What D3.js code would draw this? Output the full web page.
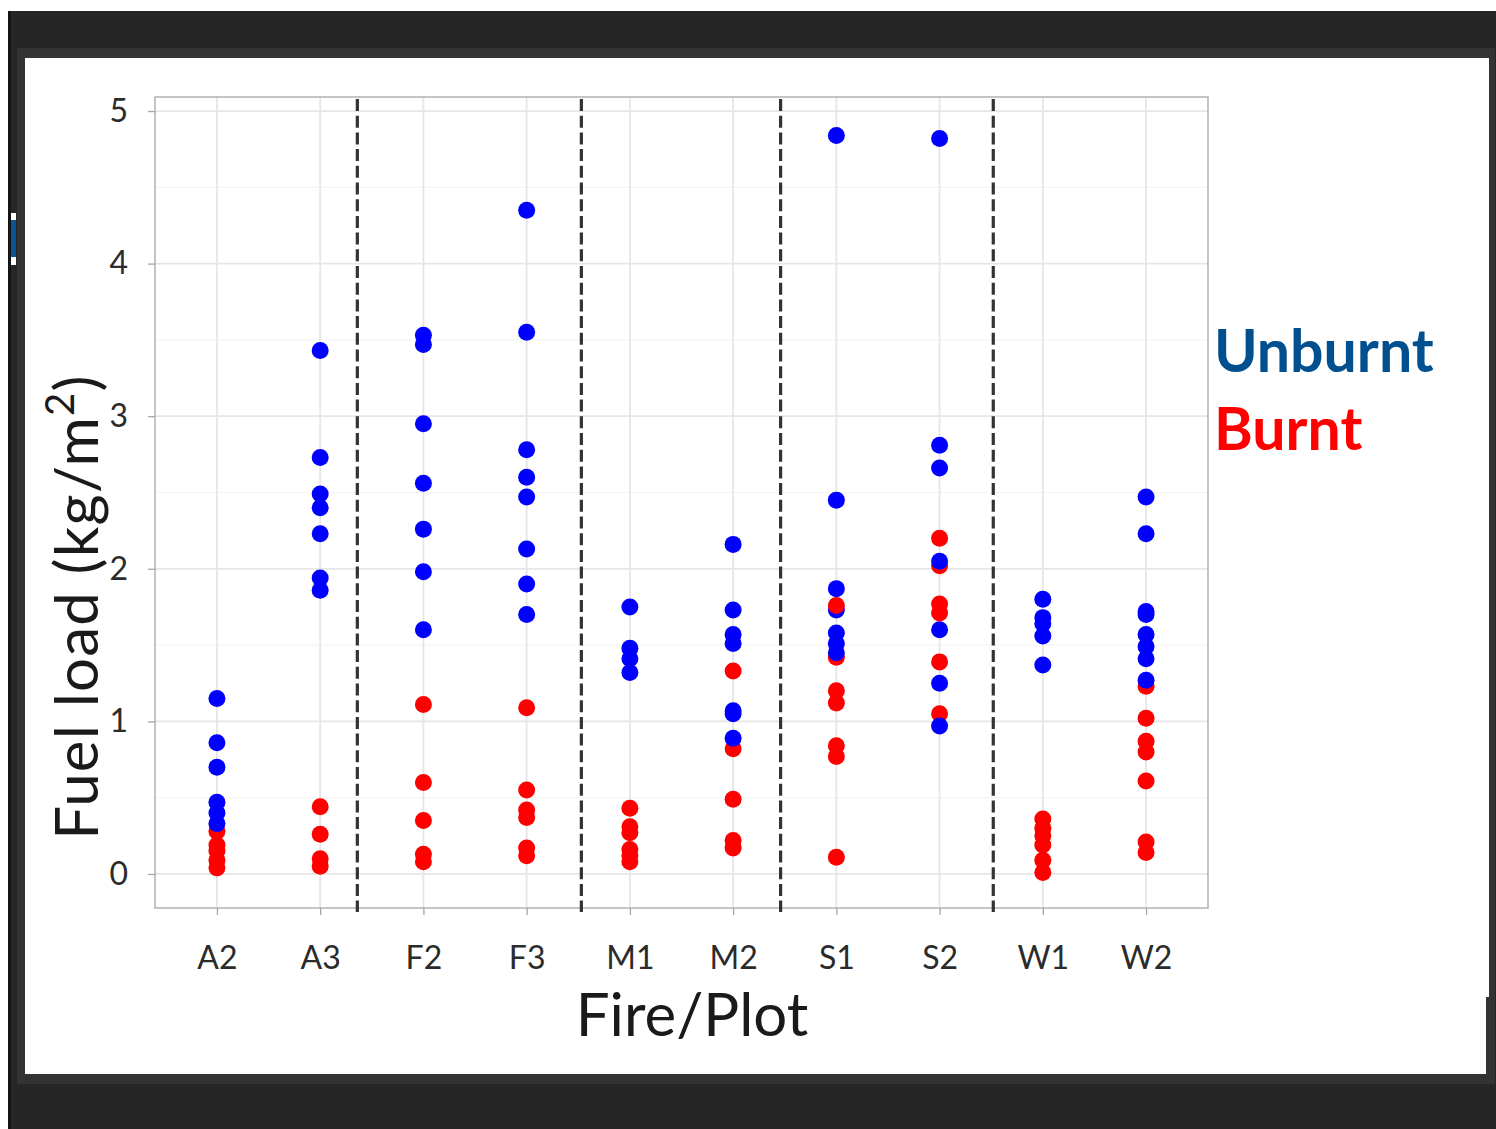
<!DOCTYPE html>
<html>
<head>
<meta charset="utf-8">
<script src="https://cdn.jsdelivr.net/npm/d3@7/dist/d3.min.js"></script>
<style>
  html, body { margin: 0; padding: 0; background: #ffffff; }
  svg { display: block; }
</style>
</head>
<body>
<svg id="chart" width="1496" height="1129"></svg>
<script>
// Plots sampled in each fire
const categories = ["A2", "A3", "F2", "F3", "M1", "M2", "S1", "S2", "W1", "W2"];

// Fuel load (kg/m²) per sample, listed in sample order for each plot
const unburnt = {
  A2: [1.15, 0.86, 0.70, 0.47, 0.40, 0.33],
  A3: [3.43, 2.73, 2.49, 2.40, 2.23, 1.94, 1.86],
  F2: [3.53, 3.47, 2.95, 2.56, 2.26, 1.98, 1.60],
  F3: [4.35, 3.55, 2.78, 2.60, 2.47, 2.13, 1.90, 1.70],
  M1: [1.75, 1.48, 1.41, 1.32],
  M2: [2.16, 1.73, 1.57, 1.51, 1.07, 1.05, 0.89],
  S1: [1.73, 4.84, 2.45, 1.87, 1.58, 1.51, 1.45],
  S2: [4.82, 2.81, 2.66, 2.05, 1.60, 1.25, 0.97],
  W1: [1.80, 1.68, 1.64, 1.56, 1.37],
  W2: [2.47, 2.23, 1.72, 1.70, 1.57, 1.49, 1.41, 1.27]
};
const burnt = {
  A2: [0.28, 0.19, 0.15, 0.09, 0.04],
  A3: [0.44, 0.26, 0.10, 0.05],
  F2: [1.11, 0.60, 0.35, 0.13, 0.08],
  F3: [1.09, 0.55, 0.42, 0.37, 0.17, 0.12],
  M1: [0.43, 0.31, 0.27, 0.16, 0.12, 0.08],
  M2: [0.82, 1.33, 0.49, 0.22, 0.17],
  S1: [1.76, 1.42, 1.20, 1.12, 0.84, 0.77, 0.11],
  S2: [2.02, 1.05, 2.20, 1.77, 1.71, 1.39],
  W1: [0.36, 0.30, 0.25, 0.19, 0.09, 0.01],
  W2: [1.23, 1.02, 0.87, 0.80, 0.61, 0.21, 0.14]
};

// Fire boundaries, in category-index units along the x axis
const fireDividers = [1.36, 3.53, 5.46, 7.52];

const yTicks = [0, 1, 2, 3, 4, 5];
const yMinor = [0.5, 1.5, 2.5, 3.5, 4.5];
const yLimits = [-0.223, 5.092];

const legendItems = [
  { label: "Unburnt", color: "#00508f" },
  { label: "Burnt", color: "#ff0000" }
];

const seriesColor = { unburnt: "#0000ff", burnt: "#ff0000" };

const svg = d3.select("#chart");

// Slide frame around the figure
svg.append("rect").attr("x", 8).attr("y", 11).attr("width", 1488).attr("height", 1118).attr("fill", "#262626");
svg.append("rect").attr("x", 8).attr("y", 11).attr("width", 3).attr("height", 1118).attr("fill", "#141414");
svg.append("rect").attr("x", 17).attr("y", 48).attr("width", 1478).attr("height", 1036).attr("fill", "#333333");
svg.append("rect").attr("x", 25).attr("y", 58).attr("width", 1464).attr("height", 939).attr("fill", "#ffffff");
svg.append("rect").attr("x", 25).attr("y", 58).attr("width", 1461).attr("height", 1016).attr("fill", "#ffffff");
svg.append("rect").attr("x", 11).attr("y", 213).attr("width", 5).attr("height", 52).attr("fill", "#ffffff");
svg.append("rect").attr("x", 11).attr("y", 220).attr("width", 5).attr("height", 37).attr("fill", "#0b5491");

// Panel geometry
const panel = { left: 155, right: 1208, top: 97, bottom: 908 };

const x = d3.scalePoint()
  .domain(categories)
  .range([panel.left, panel.right])
  .padding(0.6);

const y = d3.scaleLinear()
  .domain(yLimits)
  .range([panel.bottom, panel.top]);

const xAt = i => x(categories[0]) + i * x.step();

const g = svg.append("g");

// Gridlines
g.selectAll(".yminor").data(yMinor).join("line")
  .attr("x1", panel.left).attr("x2", panel.right)
  .attr("y1", d => y(d)).attr("y2", d => y(d))
  .attr("stroke", "#f4f4f4").attr("stroke-width", 1.2);
g.selectAll(".ymajor").data(yTicks).join("line")
  .attr("x1", panel.left).attr("x2", panel.right)
  .attr("y1", d => y(d)).attr("y2", d => y(d))
  .attr("stroke", "#e6e6e6").attr("stroke-width", 1.8);
g.selectAll(".xmajor").data(categories).join("line")
  .attr("x1", d => x(d)).attr("x2", d => x(d))
  .attr("y1", panel.top).attr("y2", panel.bottom)
  .attr("stroke", "#e6e6e6").attr("stroke-width", 1.8);

// Panel border
g.append("rect")
  .attr("x", panel.left).attr("y", panel.top)
  .attr("width", panel.right - panel.left).attr("height", panel.bottom - panel.top)
  .attr("fill", "none").attr("stroke", "#a6a6a6").attr("stroke-width", 1.3);

// Axes
const font = "'Lato', 'Noto Sans', sans-serif";

const xAxis = d3.axisBottom(x).tickSize(7).tickPadding(38);
const xg = svg.append("g").attr("transform", `translate(0,${panel.bottom})`).call(xAxis);
xg.select(".domain").remove();
xg.selectAll(".tick line").attr("stroke", "#a6a6a6").attr("stroke-width", 1.3);
xg.selectAll(".tick text")
  .attr("font-family", font).attr("font-size", 32).attr("fill", "#2b2b2b")
  .attr("dy", "0.5em");

const yAxis = d3.axisLeft(y).tickValues(yTicks).tickFormat(d3.format("d")).tickSize(7).tickPadding(20);
const yg = svg.append("g").attr("transform", `translate(${panel.left},0)`).call(yAxis);
yg.select(".domain").remove();
yg.selectAll(".tick line").attr("stroke", "#a6a6a6").attr("stroke-width", 1.3);
yg.selectAll(".tick text")
  .attr("font-family", font).attr("font-size", 32).attr("fill", "#2b2b2b");

// Axis titles
svg.append("text")
  .attr("x", 692).attr("y", 1036)
  .attr("text-anchor", "middle")
  .attr("font-family", font).attr("font-size", 60).attr("fill", "#1a1a1a")
  .text("Fire/Plot");

const yTitle = svg.append("text")
  .attr("transform", "translate(98,607) rotate(-90)")
  .attr("text-anchor", "middle")
  .attr("font-family", font).attr("font-size", 60).attr("letter-spacing", 1.2)
  .attr("fill", "#1a1a1a");
yTitle.append("tspan").text("Fuel load (kg/m");
yTitle.append("tspan").attr("baseline-shift", "super").attr("font-size", 40).text("2");
yTitle.append("tspan").text(")");

// Fire divider lines
g.selectAll(".divider").data(fireDividers).join("line")
  .attr("x1", d => xAt(d)).attr("x2", d => xAt(d))
  .attr("y1", panel.top + 2).attr("y2", panel.bottom + 4)
  .attr("stroke", "#333333").attr("stroke-width", 3.2)
  .attr("stroke-dasharray", "12,4.7");

// Points, drawn sample by sample within each plot
const points = [];
categories.forEach(c => {
  const n = Math.max(unburnt[c].length, burnt[c].length);
  for (let i = 0; i < n; i++) {
    if (i < unburnt[c].length) points.push({ cat: c, value: unburnt[c][i], type: "unburnt" });
    if (i < burnt[c].length) points.push({ cat: c, value: burnt[c][i], type: "burnt" });
  }
});

g.selectAll(".pt").data(points).join("circle")
  .attr("cx", d => x(d.cat))
  .attr("cy", d => y(d.value))
  .attr("r", 8.5)
  .attr("fill", d => seriesColor[d.type]);

// Legend
svg.selectAll(".legend").data(legendItems).join("text")
  .attr("x", 1214)
  .attr("y", (d, i) => 372 + i * 78)
  .attr("font-family", font).attr("font-weight", 700).attr("font-size", 59)
  .attr("fill", d => d.color)
  .text(d => d.label);
</script>
</body>
</html>
